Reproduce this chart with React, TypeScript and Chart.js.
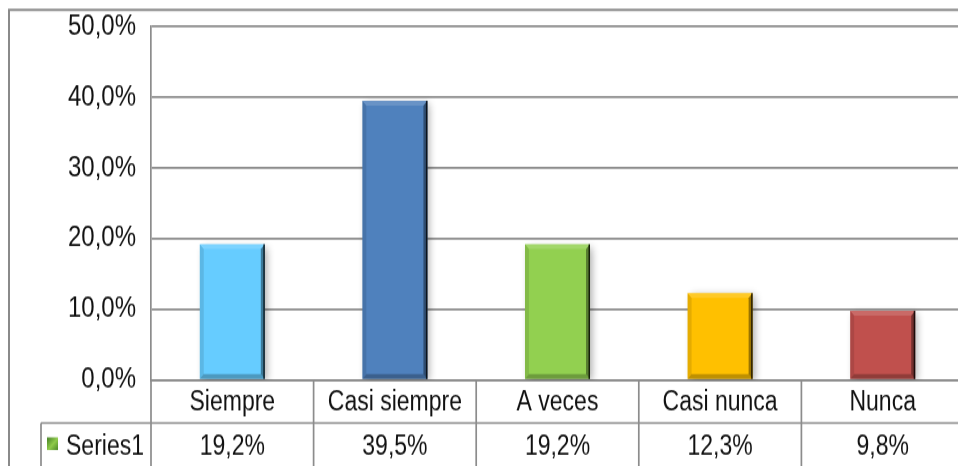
import React, { useEffect, useRef } from "react";
import { Chart, registerables } from "chart.js";

Chart.register(...registerables);

const categories = ["Siempre", "Casi siempre", "A veces", "Casi nunca", "Nunca"];
const seriesName = "Series1";
const values = [19.2, 39.5, 19.2, 12.3, 9.8];
const barColors = ["#66CCFF", "#4F81BD", "#92D050", "#FFC000", "#C0504D"];
const yTicks = [0, 10, 20, 30, 40, 50];

const FONT = "'Liberation Sans', Arial, sans-serif";
const LINE = "#8c8c8c";
const TEXT = "#111111";
const SY = 1.2; // vertical stretch of the reference picture
const W = 1000;
const H = 400;

const fmt = (v: number) => v.toFixed(1).replace(".", ",") + "%";

const barStyle = {
  id: "barStyle",
  beforeDatasetsDraw(chart: any) {
    const ctx = chart.ctx;
    ctx.save();
    ctx.shadowColor = "rgba(0,0,0,0.3)";
    ctx.shadowBlur = 7;
    ctx.shadowOffsetX = 3;
    ctx.shadowOffsetY = 2;
  },
  afterDatasetsDraw(chart: any) {
    const ctx = chart.ctx;
    ctx.restore();
    const meta = chart.getDatasetMeta(0);
    meta.data.forEach((bar: any) => {
      const w = bar.width;
      const l = bar.x - w / 2;
      const r = bar.x + w / 2;
      const t = bar.y;
      const b = bar.base;
      const k = 4;
      ctx.save();
      ctx.fillStyle = "rgba(255,255,255,0.15)";
      ctx.beginPath();
      ctx.moveTo(l, t); ctx.lineTo(r, t); ctx.lineTo(r - k, t + k); ctx.lineTo(l + k, t + k); ctx.closePath();
      ctx.fill();
      ctx.fillStyle = "rgba(0,0,0,0.1)";
      ctx.beginPath();
      ctx.moveTo(l, t); ctx.lineTo(l + k, t + k); ctx.lineTo(l + k, b - k); ctx.lineTo(l, b); ctx.closePath();
      ctx.fill();
      ctx.fillStyle = "rgba(0,0,0,0.25)";
      ctx.beginPath();
      ctx.moveTo(l, b); ctx.lineTo(r, b); ctx.lineTo(r - k, b - k); ctx.lineTo(l + k, b - k); ctx.closePath();
      ctx.fill();
      ctx.fillStyle = "rgba(0,0,0,0.4)";
      ctx.beginPath();
      ctx.moveTo(r, t); ctx.lineTo(r, b); ctx.lineTo(r - k, b - k); ctx.lineTo(r - k, t + k); ctx.closePath();
      ctx.fill();
      ctx.strokeStyle = "rgba(0,0,0,0.75)";
      ctx.lineWidth = 1.5;
      ctx.beginPath();
      ctx.moveTo(r - 0.75, t); ctx.lineTo(r - 0.75, b);
      ctx.stroke();
      ctx.restore();
    });
  },
};

const dataTable = {
  id: "dataTable",
  afterDraw(chart: any) {
    const ctx = chart.ctx;
    const area = chart.chartArea;
    const xs = chart.scales.x;
    const rowY = area.bottom + 35.8;
    ctx.save();
    ctx.strokeStyle = LINE;
    ctx.lineWidth = 1.7;
    ctx.beginPath();
    ctx.moveTo(41, rowY); ctx.lineTo(W, rowY);
    ctx.moveTo(41, rowY); ctx.lineTo(41, H);
    ctx.moveTo(area.left, area.bottom); ctx.lineTo(area.left, H);
    for (let i = 1; i < categories.length; i++) {
      const bx = (xs.getPixelForValue(i - 1) + xs.getPixelForValue(i)) / 2;
      ctx.moveTo(bx, area.bottom); ctx.lineTo(bx, H);
    }
    ctx.stroke();
    ctx.lineWidth = 2;
    ctx.strokeStyle = "#8a8a8a";
    ctx.beginPath();
    ctx.moveTo(9, H); ctx.lineTo(9, 8.3); ctx.lineTo(W, 8.3);
    ctx.stroke();

    ctx.fillStyle = TEXT;
    ctx.textAlign = "center";
    ctx.textBaseline = "middle";
    ctx.font = `23px ${FONT}`;
    categories.forEach((c, i) => {
      ctx.fillText(c, xs.getPixelForValue(i), area.bottom + 18.5);
    });
    values.forEach((v, i) => {
      ctx.fillText(fmt(v), xs.getPixelForValue(i), rowY + 20.5);
    });
    const g = ctx.createLinearGradient(47, 364, 59, 376);
    g.addColorStop(0, "#3f7a22");
    g.addColorStop(0.5, "#8fcb4a");
    g.addColorStop(1, "#3f7a22");
    ctx.fillStyle = g;
    ctx.fillRect(47, 364.5, 11, 10.5);
    ctx.fillStyle = TEXT;
    ctx.textAlign = "left";
    ctx.fillText(seriesName, 66, rowY + 20.5);
    ctx.restore();
  },
};

export default function App() {
  const ref = useRef<HTMLCanvasElement | null>(null);
  useEffect(() => {
    if (!ref.current) return;
    const chart = new Chart(ref.current, {
      type: "bar",
      data: {
        labels: categories,
        datasets: [
          {
            label: seriesName,
            data: values,
            backgroundColor: barColors,
            borderWidth: 0,
            categoryPercentage: 1,
            barPercentage: 0.4,
          },
        ],
      },
      options: {
        responsive: false,
        animation: false,
        devicePixelRatio: 1,
        layout: { padding: { top: 22.1, left: 0, right: 36, bottom: 0 } },
        plugins: { legend: { display: false }, tooltip: { enabled: false } },
        scales: {
          x: {
            grid: { display: false, drawTicks: false },
            border: { display: true, color: LINE, width: 1.7 },
            ticks: { display: false },
            afterFit: (s: any) => { s.height = 83.3; },
          },
          y: {
            min: yTicks[0],
            max: yTicks[yTicks.length - 1],
            afterBuildTicks: (s: any) => { s.ticks = yTicks.map((v) => ({ value: v })); },
            grid: { color: LINE, lineWidth: 1.7, drawTicks: false },
            border: { display: true, color: LINE, width: 1.7 },
            ticks: {
              padding: 15,
              color: TEXT,
              font: { family: FONT, size: 24, lineHeight: 0.5 },
              callback: (v: any) => fmt(Number(v)),
            },
            afterFit: (s: any) => { s.width = 151; },
          },
        },
      },
      plugins: [barStyle, dataTable],
    });
    return () => chart.destroy();
  }, []);
  return (
    <div style={{ position: "absolute", left: 0, top: 0, width: 958, height: 466, overflow: "hidden", background: "#fff" }}>
      <div style={{ transform: `scaleY(${SY})`, transformOrigin: "0 0", width: W, height: H }}>
        <canvas ref={ref} width={W} height={H} style={{ width: W, height: H }} />
      </div>
    </div>
  );
}
